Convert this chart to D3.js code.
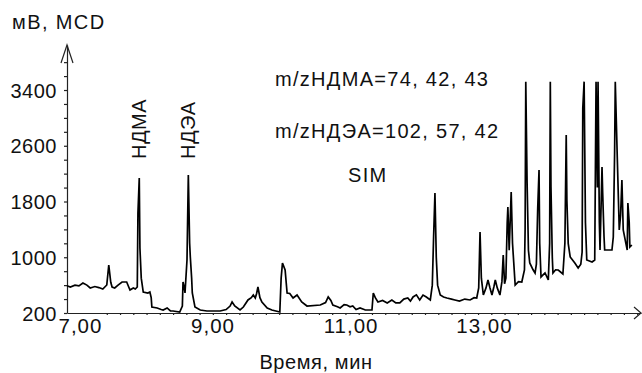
<!DOCTYPE html>
<html>
<head>
<meta charset="utf-8">
<script src="https://cdn.jsdelivr.net/npm/d3@7"></script>
<style>
  body { margin: 0; background: #fff; }
  text { font-family: "Liberation Sans", Arial, sans-serif; fill: #111; }
</style>
</head>
<body>
<div id="chart"></div>
<script>
// retention time, min
const times = [
  7.00, 7.05, 7.12, 7.18, 7.24, 7.30, 7.35, 7.42, 7.48, 7.54, 7.60, 7.63, 7.66, 7.68, 7.72, 7.77,
  7.83, 7.90, 7.95, 8.00, 8.03, 8.06, 8.07, 8.09, 8.10, 8.12, 8.15, 8.22, 8.25, 8.27, 8.28, 8.36,
  8.42, 8.45, 8.51, 8.56, 8.60, 8.70, 8.74, 8.75, 8.77, 8.78, 8.81, 8.83, 8.85, 8.86, 8.88, 8.89,
  8.93, 9.01, 9.11, 9.31, 9.40, 9.46, 9.49, 9.53, 9.61, 9.66, 9.73, 9.78, 9.81, 9.84, 9.86, 9.88,
  9.91, 9.94, 10.02, 10.09, 10.21, 10.23, 10.25, 10.29, 10.32, 10.36, 10.41, 10.47, 10.54, 10.62,
  10.82, 10.90, 10.94, 10.98, 11.01, 11.08, 11.12, 11.18, 11.22, 11.27, 11.31, 11.36, 11.42, 11.50,
  11.60, 11.62, 11.65, 11.69, 11.76, 11.83, 11.90, 11.96, 12.02, 12.08, 12.14, 12.18, 12.22, 12.27,
  12.32, 12.37, 12.42, 12.48, 12.51, 12.53, 12.55, 12.57, 12.59, 12.63, 12.68, 12.73, 12.80, 12.85,
  12.92, 13.00, 13.08, 13.14, 13.18, 13.21, 13.23, 13.25, 13.28, 13.32, 13.35, 13.38, 13.41, 13.44,
  13.46, 13.49, 13.53, 13.56, 13.58, 13.60, 13.62, 13.64, 13.65, 13.67, 13.70, 13.72, 13.76, 13.81,
  13.86, 13.90, 13.91, 13.92, 13.94, 13.96, 13.98, 14.03, 14.06, 14.08, 14.10, 14.12, 14.13, 14.15,
  14.21, 14.26, 14.28, 14.29, 14.30, 14.32, 14.33, 14.37, 14.41, 14.48, 14.51, 14.53, 14.54, 14.56,
  14.59, 14.66, 14.71, 14.75, 14.77, 14.78, 14.80, 14.82, 14.84, 14.92, 14.96, 14.98, 15.00, 15.01,
  15.03, 15.04, 15.07, 15.08, 15.10, 15.11, 15.18, 15.22, 15.24, 15.26, 15.27, 15.30, 15.33, 15.35,
  15.37, 15.39, 15.43, 15.45, 15.46, 15.48, 15.49, 15.52
];
// detector signal, mV
const signal = [
  590, 573, 600, 590, 631, 600, 559, 580, 565, 544, 602, 889, 640, 573, 559, 600,
  645, 645, 530, 560, 544, 573, 1635, 2137, 1133, 700, 501, 487, 501, 420, 286, 272,
  250, 243, 272, 229, 229, 214, 300, 645, 560, 487, 961, 2180, 1200, 1004, 700, 487,
  286, 243, 229, 229, 250, 300, 358, 300, 243, 286, 387, 420, 458, 415, 480, 573,
  420, 358, 272, 243, 214, 700, 918, 817, 487, 480, 415, 458, 358, 300,
  315, 350, 430, 380, 315, 290, 272, 320, 315, 290, 300, 250, 272, 243,
  243, 487, 420, 358, 380, 344, 387, 344, 344, 400, 415, 370, 430, 460,
  387, 458, 430, 387, 600, 1300, 1922, 1000, 600, 458, 430, 415, 400, 387,
  370, 400, 387, 420, 415, 560, 1362, 700, 458, 560, 674, 560, 458, 580,
  674, 560, 458, 650, 1032, 620, 700, 1500, 1721, 1100, 1936, 1200, 602, 650,
  645, 817, 1400, 3520, 2066, 1100, 918, 820, 774, 900, 1700, 2252, 1200, 717,
  774, 674, 1200, 3520, 2008, 1000, 774, 820, 817, 760, 1200, 2754, 1822, 1200,
  1004, 918, 846, 900, 1075, 3142, 3520, 1500, 961, 932, 961, 3520, 2000, 3520,
  1500, 1104, 2295, 1922, 1300, 1104, 1104, 1104, 1291, 2500, 3520, 2439, 1391, 1600,
  2109, 1391, 1200, 1104, 1779, 1500, 1147, 1176
];

const xMajorTicks = [7, 9, 11, 13];
const yMajorTicks = [200, 1000, 1800, 2600, 3400];
const peakNames = ["НДМА", "НДЭА"];
const peakTimes = [8.09, 8.83];
const notes = ["m/zНДМА=74, 42, 43", "m/zНДЭА=102, 57, 42", "SIM"];

const width = 642, height = 373;
const svg = d3.select("#chart").append("svg")
  .attr("width", width)
  .attr("height", height);

const x = d3.scaleLinear().domain([7, 15.658]).range([67, 641]);
const y = d3.scaleLinear().domain([200, 4046]).range([313, 45]);

const data = times.map((t, i) => ({ t: t, v: signal[i] }));

// y axis: minor ticks every 200, labels on the majors
const yAxis = d3.axisLeft(y)
  .tickValues(d3.range(200, 4000, 200))
  .tickSize(3)
  .tickSizeOuter(0)
  .tickPadding(7)
  .tickFormat(d => yMajorTicks.includes(d) ? d : "");
const gy = svg.append("g")
  .attr("transform", "translate(" + x.range()[0] + ",0)")
  .call(yAxis);
gy.selectAll("text")
  .style("font-size", "20px")
  .style("letter-spacing", "0.5px")
  .attr("dy", "0.36em");
gy.selectAll("path, line").attr("stroke", "#222").attr("stroke-width", 1.2);

// x axis: minor ticks every 0.2 min
const xAxis = d3.axisBottom(x)
  .tickValues(d3.range(7.6, 15.61, 0.2))
  .tickSize(2)
  .tickSizeOuter(0)
  .tickFormat("");
const gx = svg.append("g")
  .attr("transform", "translate(0," + y.range()[0] + ")")
  .call(xAxis);
gx.selectAll("path, line").attr("stroke", "#222").attr("stroke-width", 1.2);

const xLabels = d3.axisBottom(x)
  .tickValues(xMajorTicks)
  .tickSize(0)
  .tickPadding(5)
  .tickFormat(d => d3.format(".2f")(d).replace(".", ","));
const gxl = svg.append("g")
  .attr("transform", "translate(0," + y.range()[0] + ")")
  .call(xLabels);
gxl.select(".domain").remove();
gxl.selectAll("text")
  .style("font-size", "20.5px")
  .style("letter-spacing", "1px")
  .attr("text-anchor", "start")
  .attr("dx", -9);

// arrow heads
const x0 = x.range()[0], y0 = y.range()[0];
const xEnd = x.range()[1], yEnd = y.range()[1];
svg.append("path")
  .attr("d", `M${x0 - 6},${yEnd + 18}L${x0},${yEnd}L${x0 + 6},${yEnd + 18}`)
  .attr("fill", "none").attr("stroke", "#222").attr("stroke-width", 1.2);
svg.append("path")
  .attr("d", `M${xEnd - 7},${y0 - 6}L${xEnd},${y0}L${xEnd - 7},${y0 + 6}`)
  .attr("fill", "none").attr("stroke", "#222").attr("stroke-width", 1.2);

// chromatogram trace
svg.append("path")
  .datum(data)
  .attr("fill", "none")
  .attr("stroke", "#000")
  .attr("stroke-width", 1.7)
  .attr("stroke-linejoin", "miter")
  .attr("d", d3.line().x(d => x(d.t)).y(d => y(d.v)));

// axis titles
svg.append("text")
  .attr("x", 12).attr("y", 29)
  .style("font-size", "20px")
  .style("letter-spacing", "1.4px")
  .text("мВ, MCD");
svg.append("text")
  .attr("x", 316).attr("y", 369)
  .attr("text-anchor", "middle")
  .style("font-size", "20px")
  .style("letter-spacing", "0.6px")
  .text("Время, мин");

// peak labels, rotated
svg.selectAll(".peak")
  .data(peakNames)
  .enter().append("text")
  .attr("class", "peak")
  .style("font-size", "20px")
  .style("letter-spacing", "0.5px")
  .attr("transform", (d, i) => "translate(" + (x(peakTimes[i]) + 7) + ",159) rotate(-90)")
  .text(d => d);

// annotations
const noteY = [86, 138, 182];
const noteX = [275, 275, 348];
notes.forEach((n, i) => {
  svg.append("text")
    .attr("x", noteX[i]).attr("y", noteY[i])
    .style("font-size", "20px")
    .style("letter-spacing", "1.3px")
    .text(n);
});
</script>
</body>
</html>
